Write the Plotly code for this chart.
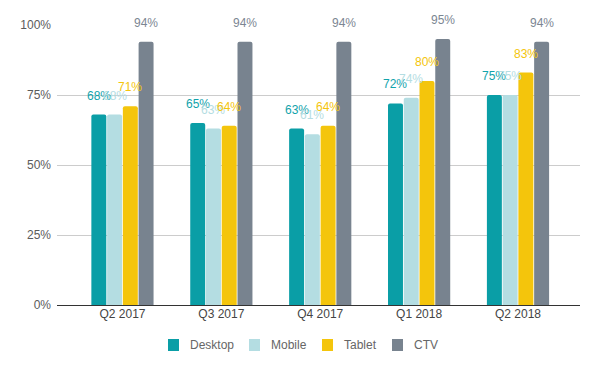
import plotly.graph_objects as go

categories = ["Q2 2017", "Q3 2017", "Q4 2017", "Q1 2018", "Q2 2018"]
desktop = [68, 65, 63, 72, 75]
mobile = [68, 63, 61, 74, 75]
tablet = [71, 64, 64, 80, 83]
ctv = [94, 94, 94, 95, 94]
series_names = ["Desktop", "Mobile", "Tablet", "CTV"]
series_values = [desktop, mobile, tablet, ctv]
y_ticks = [0, 25, 50, 75, 100]
y_tick_labels = ["0%", "25%", "50%", "75%", "100%"]
bar_colors = ["#0a9ea6", "#b4dde2", "#f4c50c", "#78838f"]
label_colors = ["#12a3ab", "#b4dde2", "#f4c50c", "#7c8692"]
FONT = "Liberation Sans, Arial, sans-serif"

W, H = 604, 371
ML, MR, MT, MB = 57, 24, 25, 66
PW, PH = W - ML - MR, H - MT - MB

fig = go.Figure()
for name, vals, col in zip(series_names, series_values, bar_colors):
    fig.add_trace(go.Bar(name=name, x=categories, y=vals, showlegend=False,
                         marker=dict(color=col, cornerradius=2, line=dict(width=0))))

annotations = []
slot = 15.75
for i, (vals, col) in enumerate(zip(series_values, label_colors)):
    for c, v in zip(categories, vals):
        annotations.append(dict(x=c, y=v, text=f"{v}%", showarrow=False, xref="x", yref="y",
                                xshift=(i - 1.5) * slot, yshift=10, yanchor="bottom",
                                font=dict(color=col, size=12, family=FONT)))

# custom legend (pixel positions converted to paper coords)
legend_px = [168, 249, 322, 392]
shapes = []
for name, col, px in zip(series_names, bar_colors, legend_px):
    x0 = (px - ML) / PW
    x1 = (px + 11 - ML) / PW
    y0 = (MT + PH - 351) / PH
    y1 = (MT + PH - 339) / PH
    shapes.append(dict(type="rect", xref="paper", yref="paper", x0=x0, x1=x1, y0=y0, y1=y1,
                       fillcolor=col, line=dict(width=0)))
    annotations.append(dict(xref="paper", yref="paper", x=(px + 20 - ML) / PW, y=(MT + PH - 345) / PH,
                            xanchor="left", yanchor="middle", text=name, showarrow=False,
                            font=dict(color="#666666", size=12, family=FONT)))

fig.update_layout(
    width=W, height=H,
    margin=dict(l=ML, r=MR, t=MT, b=MB, autoexpand=False),
    paper_bgcolor="white", plot_bgcolor="white",
    barmode="group", bargap=0.363, bargroupgap=0.05,
    font=dict(family=FONT, size=12, color="#5b5b5b"),
    xaxis=dict(range=[-0.662, 4.627], showgrid=False, showline=False, ticks="",
               tickfont=dict(color="#444444", size=12, family=FONT), automargin=False),
    yaxis=dict(range=[0, 100], tickvals=y_ticks, ticktext=y_tick_labels,
               gridcolor="#cccccc", gridwidth=1, zeroline=True, zerolinecolor="#333333", zerolinewidth=1,
               tickfont=dict(color="#5b5b5b", size=12, family=FONT), automargin=False, ticklabelstandoff=5),
    showlegend=False,
    annotations=annotations,
    shapes=shapes,
)

fig.write_html("out.html", config={"displayModeBar": False},
               post_script="document.body.style.margin='0';")
